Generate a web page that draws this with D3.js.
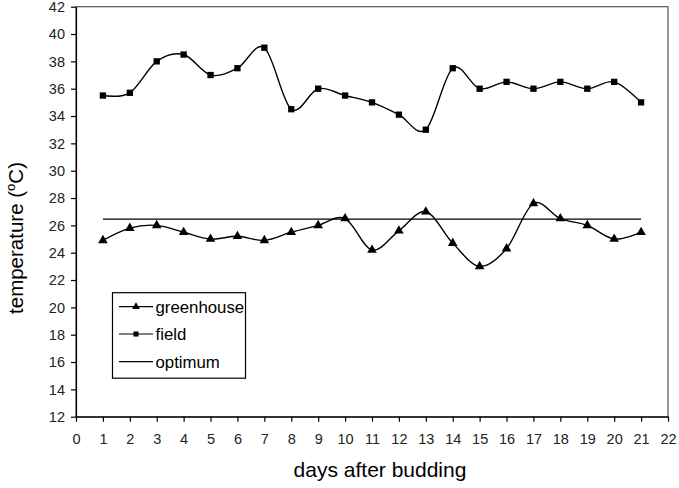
<!DOCTYPE html>
<html><head><meta charset="utf-8">
<script src="https://cdn.jsdelivr.net/npm/d3@7"></script>
<style>body{margin:0;background:#fff}svg{display:block}text{font-family:"Liberation Sans",Arial,sans-serif}</style>
</head><body>
<script>
const days = [1,2,3,4,5,6,7,8,9,10,11,12,13,14,15,16,17,18,19,20,21];
const field = [35.5,35.7,38,38.5,37,37.5,39,34.5,36,35.5,35,34.1,33,37.5,36,36.5,36,36.5,36,36.5,35];
const greenhouse = [24.9,25.8,26,25.5,25,25.2,24.9,25.5,26,26.5,24.2,25.6,27,24.7,23,24.3,27.6,26.5,26,25,25.5];
const optimum = 26.45;
const xTicks = d3.range(0,23);
const yTicks = d3.range(12,43,2);
const legendLabels = ["greenhouse","field","optimum"];

const W=679,H=488;
const svg=d3.select("body").append("svg").attr("width",W).attr("height",H);
const x=d3.scaleLinear().domain([0,22]).range([76,668]);
const y=d3.scaleLinear().domain([12,42]).range([416.7,6.7]);

// plot frame (top/right)
svg.append("rect").attr("x",x(0)).attr("y",y(42)).attr("width",x(22)-x(0)).attr("height",y(12)-y(42))
  .attr("fill","none").attr("stroke","#555").attr("stroke-width",1.2);

const yAxis=svg.append("g").attr("transform",`translate(${x(0)},0)`)
  .call(d3.axisLeft(y).tickValues(yTicks).tickSize(5).tickPadding(6).tickSizeOuter(0));
const xAxis=svg.append("g").attr("transform",`translate(0,${y(12)})`)
  .call(d3.axisBottom(x).tickValues(xTicks).tickSize(5).tickPadding(12).tickSizeOuter(0));
[yAxis,xAxis].forEach(a=>{
  a.selectAll("path,line").attr("stroke","#000").attr("stroke-width",1.2);
  a.selectAll("text").attr("font-size",14.5).attr("fill","#222").attr("font-family","Liberation Sans, Arial, sans-serif");
});

// axis titles
svg.append("text").attr("x",380).attr("y",477).attr("text-anchor","middle").attr("font-size",21).attr("fill","#000").text("days after budding");
const yt=svg.append("text").attr("transform","translate(23,238) rotate(-90)").attr("text-anchor","middle").attr("font-size",20.5).attr("fill","#000");
yt.append("tspan").text("temperature (");
yt.append("tspan").attr("font-size",13).attr("dy",-8).text("o");
yt.append("tspan").attr("dy",8).text("C)");

const line=d3.line().x((d,i)=>x(days[i])).y(d=>y(d)).curve(d3.curveCardinal.tension(0));

// optimum
svg.append("line").attr("x1",x(days[0])).attr("x2",x(days[days.length-1])).attr("y1",y(optimum)).attr("y2",y(optimum))
  .attr("stroke","#000").attr("stroke-width",1.3);

svg.append("path").datum(field).attr("d",line).attr("fill","none").attr("stroke","#000").attr("stroke-width",1.4);
svg.append("path").datum(greenhouse).attr("d",line).attr("fill","none").attr("stroke","#000").attr("stroke-width",1.4);

const sq=d3.symbol().type(d3.symbolSquare).size(40);
const tri=d3.symbol().type(d3.symbolTriangle).size(40);
svg.append("g").selectAll("path").data(field).join("path").attr("d",sq)
  .attr("transform",(d,i)=>`translate(${x(days[i])},${y(d)})`).attr("fill","#000");
svg.append("g").selectAll("path").data(greenhouse).join("path").attr("d",tri)
  .attr("transform",(d,i)=>`translate(${x(days[i])},${y(d)})`).attr("fill","#000");

// legend
const lg=svg.append("g");
lg.append("rect").attr("x",112.5).attr("y",292.7).attr("width",133).attr("height",85.5).attr("fill","#fff").attr("stroke","#000").attr("stroke-width",1.2);
const ly=[306.7,334,361.7];
legendLabels.forEach((t,i)=>{
  lg.append("line").attr("x1",119).attr("x2",153).attr("y1",ly[i]).attr("y2",ly[i]).attr("stroke","#000").attr("stroke-width",1.2);
  if(i===0) lg.append("path").attr("d",d3.symbol().type(d3.symbolTriangle).size(26)).attr("transform",`translate(136,${ly[i]})`).attr("fill","#000");
  if(i===1) lg.append("path").attr("d",d3.symbol().type(d3.symbolSquare).size(26)).attr("transform",`translate(136,${ly[i]})`).attr("fill","#000");
  lg.append("text").attr("x",155.5).attr("y",ly[i]+6).attr("font-size",16.8).attr("fill","#000").text(t);
});
</script>
</body></html>
